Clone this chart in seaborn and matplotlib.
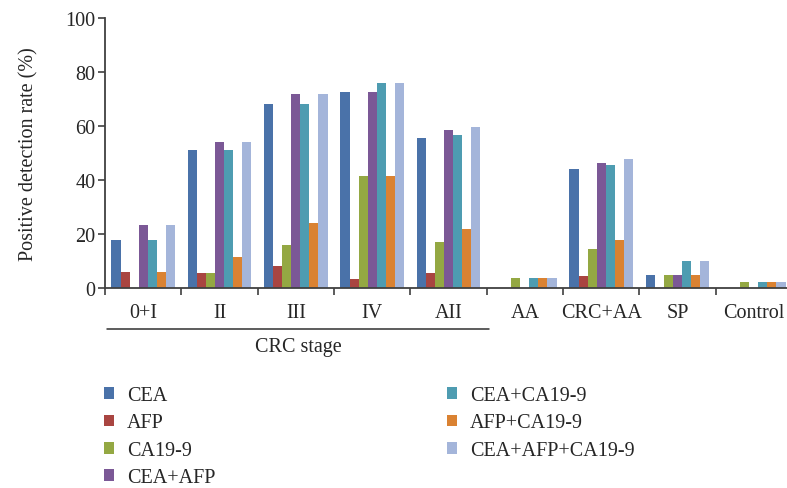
import numpy as np
import pandas as pd
import matplotlib
matplotlib.use("Agg")
import matplotlib.pyplot as plt
import seaborn as sns
from matplotlib.patches import Patch
from matplotlib.lines import Line2D
import matplotlib.transforms as mtransforms

categories = ["0+I", "II", "III", "IV", "AII", "AA", "CRC+AA", "SP", "Control"]
markers = ["CEA", "AFP", "CA19-9", "CEA+AFP", "CEA+CA19-9", "AFP+CA19-9", "CEA+AFP+CA19-9"]

cea        = [17.7, 51.0, 68.1, 72.6, 55.5, 0.0, 44.0, 4.7, 0.0]
afp        = [5.8, 5.4, 8.0, 3.2, 5.4, 0.0, 4.4, 0.0, 0.0]
ca199      = [0.0, 5.4, 15.8, 41.4, 16.9, 3.6, 14.3, 4.7, 2.1]
cea_afp    = [23.2, 54.0, 71.8, 72.6, 58.5, 0.0, 46.2, 4.7, 0.0]
cea_ca199  = [17.7, 51.0, 68.1, 75.9, 56.6, 3.6, 45.5, 9.9, 2.1]
afp_ca199  = [5.8, 11.4, 24.0, 41.4, 21.8, 3.6, 17.7, 4.7, 2.1]
all_three  = [23.2, 54.0, 71.8, 75.9, 59.6, 3.6, 47.7, 9.9, 2.1]

colors = ["#4A72A9", "#A94541", "#94A843", "#7B5896", "#4E9CB1", "#DA8232", "#A4B5DA"]

series = [cea, afp, ca199, cea_afp, cea_ca199, afp_ca199, all_three]
rows = []
for m, vals in zip(markers, series):
    for c, v in zip(categories, vals):
        rows.append({"group": c, "marker": m, "rate": v})
df = pd.DataFrame(rows)

sns.set_style("ticks")
plt.rcParams["font.family"] = ["Liberation Serif", "DejaVu Serif"]
FS = 14.5

W, H = 787, 489
fig = plt.figure(figsize=(W / 100, H / 100), dpi=100)
ax_left, ax_right = 105, 792
ax_top, ax_bottom = 19, 288.7
ax = fig.add_axes([ax_left / W, 1 - ax_bottom / H, (ax_right - ax_left) / W, (ax_bottom - ax_top) / H])

sns.barplot(data=df, x="group", y="rate", hue="marker", order=categories,
            hue_order=markers, palette=colors, width=0.83, saturation=1,
            linewidth=0, ax=ax, legend=False)

ax.set_xlim(-0.5, len(categories) - 0.5)
ax.set_ylim(0, 100)
ax.set_yticks([0, 20, 40, 60, 80, 100])
ax.set_ylabel("Positive detection rate (%)", fontsize=FS, labelpad=19)
ax.set_xlabel("")

ax.set_xticks(np.arange(-0.5, len(categories), 1.0))
ax.set_xticklabels([])
ax.set_xticks(np.arange(len(categories)), minor=True)
ax.set_xticklabels(categories, minor=True, fontsize=FS)
ax.tick_params(axis="x", which="major", direction="out", length=5, width=1.2, color="#404040")
ax.tick_params(axis="x", which="minor", length=0, pad=11)
ax.tick_params(axis="y", direction="out", length=5, width=1.2, color="#404040", labelsize=FS, pad=2)

for s in ["top", "right"]:
    ax.spines[s].set_visible(False)
for s in ["left", "bottom"]:
    ax.spines[s].set_color("#404040")
    ax.spines[s].set_linewidth(1.3)

# CRC stage bracket line and label
trans = mtransforms.blended_transform_factory(ax.transData, ax.transAxes)
x0 = -0.5 + (107 - ax_left) / ((ax_right - ax_left) / len(categories))
x1 = -0.5 + (489 - ax_left) / ((ax_right - ax_left) / len(categories))
yl = (ax_bottom - 330) / (ax_bottom - ax_top)
ax.add_line(Line2D([x0, x1], [yl, yl], transform=trans, color="#303030", lw=1.1, clip_on=False))
ax.text((x0 + x1) / 2, (ax_bottom - 348) / (ax_bottom - ax_top), "CRC stage", transform=trans,
        ha="center", va="center", fontsize=FS)

# Legend in two columns
handles = [Patch(facecolor=c, edgecolor="none") for c in colors]
common = dict(frameon=False, fontsize=FS, handlelength=0.5, handleheight=0.5,
              handletextpad=0.65, borderpad=0, borderaxespad=0, labelspacing=0.42,
              loc="upper left")
fig.legend(handles[:4], markers[:4], bbox_to_anchor=(104 / W, 1 - 387 / H), **common)
fig.legend(handles[4:], markers[4:], bbox_to_anchor=(447 / W, 1 - 387 / H), **common)

fig.savefig("out.png", dpi=100)
